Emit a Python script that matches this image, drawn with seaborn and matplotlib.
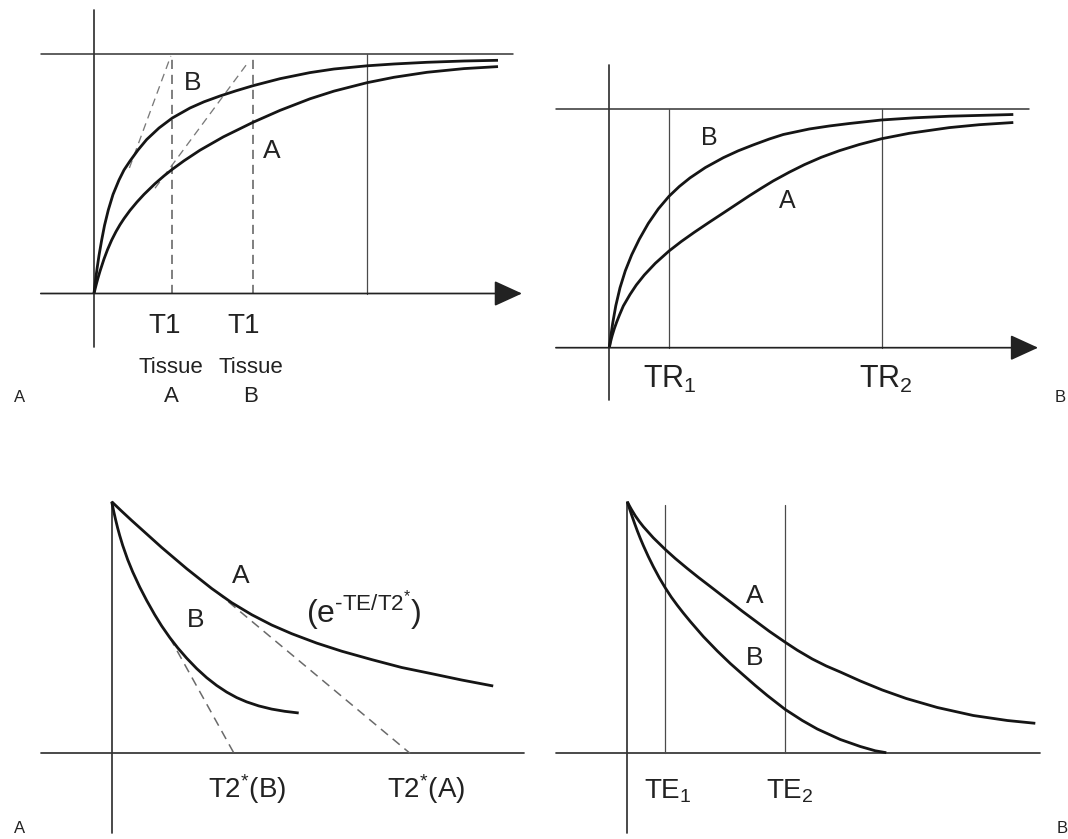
import matplotlib
matplotlib.use("Agg")
import matplotlib.pyplot as plt
import seaborn as sns

# ---------------- data ----------------
# Top left: T1 recovery of two tissues (time in ms, Mz as a fraction of M0)
t1_time_b = [0, 5, 10, 15, 25, 38.5, 52.5, 71.5, 95, 125, 150, 180, 220, 263.5, 325,
             391.5, 480, 550, 630, 710, 795, 930, 1080, 1200, 1365, 1500, 1665, 1850, 2020]
t1_mz_b = [0, 0.0376, 0.0711, 0.1024, 0.1589, 0.2237, 0.2843, 0.3491, 0.4139, 0.4745,
           0.5163, 0.5539, 0.5999, 0.6438, 0.6919, 0.7337, 0.7755, 0.8014, 0.8257, 0.8474,
           0.8687, 0.8980, 0.9235, 0.9385, 0.9519, 0.9595, 0.9666, 0.9720, 0.9749]
t1_time_a = [0, 5, 12.5, 20, 30, 50, 67.5, 88.5, 110, 130, 150, 180, 215, 250, 305, 350,
             391.5, 450, 530, 646.5, 795, 930, 1080, 1200, 1365, 1500, 1665, 1850, 2020]
t1_mz_a = [0, 0.0171, 0.0418, 0.0648, 0.0932, 0.1442, 0.1831, 0.2236, 0.2588, 0.2876,
           0.3131, 0.3474, 0.3825, 0.4143, 0.4590, 0.4917, 0.5192, 0.5548, 0.5991, 0.6547,
           0.7157, 0.7655, 0.8140, 0.8461, 0.8813, 0.9039, 0.9248, 0.9402, 0.9486]
t1_marks = [392, 795]          # T1 of tissue A, tissue B
t1_late = 1365                 # late sampling time
t1_tangents = [((177, 0.525), (384, 0.993)), ((305, 0.44), (765, 0.96))]

# Top right: same recovery sampled at two repetition times
tr_time_b = [0, 7.5, 17, 32.5, 53.5, 80, 112, 150, 195, 245, 298.5, 350, 403.5, 480, 570,
             645, 720, 800, 870, 1000, 1100, 1200, 1360, 1525, 1700, 2020]
tr_mz_b = [0, 0.0482, 0.1028, 0.1762, 0.2513, 0.3226, 0.3897, 0.4551, 0.5214, 0.5822,
           0.6351, 0.6762, 0.7123, 0.7555, 0.7970, 0.8260, 0.8507, 0.8754, 0.8943, 0.9174,
           0.9300, 0.9404, 0.9551, 0.9643, 0.9710, 0.9782]
tr_time_a = [0, 5, 10, 15, 25, 37, 50, 70, 103.5, 135, 175, 230, 298.5, 360, 425, 500, 570,
             635, 700, 760, 820, 900, 975, 1060, 1150, 1250, 1360, 1500, 1700, 1850, 2020]
tr_mz_a = [0, 0.0197, 0.0369, 0.0524, 0.0797, 0.1078, 0.1355, 0.1749, 0.2232, 0.2630,
           0.3050, 0.3540, 0.4056, 0.4455, 0.4841, 0.5264, 0.5650, 0.6011, 0.6372, 0.6690,
           0.6997, 0.7362, 0.7676, 0.7987, 0.8263, 0.8523, 0.8763, 0.8993, 0.9232, 0.9354,
           0.9446]
tr_marks = [300, 1362]
tr_labels = ["TR$_1$", "TR$_2$"]

# Bottom left: T2* decay (echo time in ms, signal as a fraction of the initial value)
t2s_te_a = [0, 5, 10, 17.5, 25, 37.5, 50, 60, 70, 80, 90, 102.5, 115, 130, 145, 160, 175,
            190.75]
t2s_sig_a = [1.0, 0.9622, 0.9253, 0.8717, 0.8180, 0.7337, 0.6550, 0.5986, 0.5509, 0.5099,
             0.4754, 0.4380, 0.4058, 0.3724, 0.3410, 0.3164, 0.2913, 0.2675]
t2s_te_b = [0, 1, 2, 3, 4, 5.5, 8, 10.5, 14, 17.5, 21.5, 25, 29, 33, 37.5, 42.5, 47.5, 52.5,
            57.5, 62.5, 67.5, 73.5, 80, 86.5, 93.5]
t2s_sig_b = [1.0, 0.9618, 0.9269, 0.8947, 0.8657, 0.8263, 0.7695, 0.7210, 0.6610, 0.6073,
             0.5509, 0.5060, 0.4603, 0.4193, 0.3780, 0.3367, 0.3005, 0.2695, 0.2432, 0.2214,
             0.2043, 0.1884, 0.1757, 0.1669, 0.1602]
t2s_values = [61.15, 149.15]    # T2*(B), T2*(A)
t2s_tangent_from = [(29, 0.4603), (52.5, 0.641)]
t2s_labels = ["T2$^{*}$(B)", "T2$^{*}$(A)"]

# Bottom right: decay sampled at two echo times
te_time_a = [0, 1, 2, 4, 6, 8, 13, 19, 24, 30, 35.5, 41.5, 47, 52.5, 57.5, 63, 71, 79, 85,
             92.5, 99.5, 106.5, 116.5, 127.5, 139.5, 155, 173, 190, 204]
te_sig_a = [1.0, 0.9845, 0.9701, 0.9438, 0.9211, 0.9008, 0.8562, 0.8096, 0.7737, 0.7339,
            0.6988, 0.6622, 0.6283, 0.5948, 0.5637, 0.5311, 0.4837, 0.4398, 0.4084, 0.3733,
            0.3454, 0.3215, 0.2857, 0.2498, 0.2159, 0.1801, 0.1482, 0.1283, 0.1171]
te_time_b = [0, 1.25, 2.5, 3.75, 5, 6.5, 8, 10.5, 13, 16, 19, 22, 25, 28, 31.5, 38, 45, 51.5,
             58, 64, 70, 79, 87.5, 95, 106.5, 116.5, 124, 129.5]
te_sig_b = [1.0, 0.9689, 0.9394, 0.9112, 0.8841, 0.8538, 0.8255, 0.7817, 0.7414, 0.6968,
            0.6566, 0.6199, 0.5873, 0.5566, 0.5227, 0.4629, 0.4052, 0.3554, 0.3096, 0.2677,
            0.2279, 0.1721, 0.1283, 0.0944, 0.0526, 0.0247, 0.0076, 0.0]
te_marks = [18.85, 78.85]
te_labels = ["TE$_1$", "TE$_2$"]

# ---------------- style ----------------
sns.set_theme(style="white")
plt.rcParams["font.family"] = ["Liberation Sans", "DejaVu Sans"]
plt.rcParams["mathtext.fontset"] = "custom"
plt.rcParams["mathtext.rm"] = "Liberation Sans"
plt.rcParams["mathtext.it"] = "Liberation Sans"
plt.rcParams["mathtext.sf"] = "Liberation Sans"

W, H = 1068, 839
fig = plt.figure(figsize=(W / 100, H / 100), dpi=100)
fig.patch.set_facecolor("white")

CURVE = "#151515"
AXIS = "#333333"
THIN = "#4a4a4a"
DASH = "#6a6a6a"
TXT = "#222222"
CURVE_LW = 2.0
AXIS_LW = 1.25


def panel(x0, y0, ms_per_px, height_px):
    """Full-figure transparent axes whose origin sits at pixel (x0, y0)."""
    ax = fig.add_axes([0, 0, 1, 1])
    ax.set_xlim((0 - x0) * ms_per_px, (W - x0) * ms_per_px)
    ax.set_ylim((y0 - H) / height_px, y0 / height_px)
    ax.set_axis_off()
    return ax


def curve(ax, x, y):
    sns.lineplot(x=x, y=y, ax=ax, color=CURVE, linewidth=CURVE_LW, legend=False,
                 solid_capstyle="butt", solid_joinstyle="round")


def arrow_axis(ax, x_start, x_tip):
    ax.annotate("", xy=(x_tip, 0), xytext=(x_start, 0),
                arrowprops=dict(arrowstyle="-|>,head_length=1.75,head_width=0.8",
                                mutation_scale=10, lw=AXIS_LW, color="#222222",
                                shrinkA=0, shrinkB=0))


def label(ax, x, y, s, size=19, ha="center"):
    ax.text(x, y, s, ha=ha, va="baseline", fontsize=size, color=TXT)


# ---- top left: T1 ----
ax1 = panel(94, 293.5, 5, 239.2)
ax1.plot([0, 0], [-0.224, 1.185], color=AXIS, lw=AXIS_LW)
arrow_axis(ax1, -266, 2140)
ax1.plot([-266, 2095], [1, 1], color=AXIS, lw=1.1)
for xm in t1_marks:
    ax1.plot([xm, xm], [0, 1], color=DASH, lw=1.2, ls=(0, (5.5, 3.5)))
ax1.plot([t1_late, t1_late], [0, 1], color=THIN, lw=0.9)
for (xa, ya), (xb, yb) in t1_tangents:
    ax1.plot([xa, xb], [ya, yb], color="#7a7a7a", lw=0.95, ls=(0, (6, 4)))
curve(ax1, t1_time_b, t1_mz_b)
curve(ax1, t1_time_a, t1_mz_a)
label(ax1, 495, 0.851, "B")
label(ax1, 890, 0.567, "A")
label(ax1, 355, -0.166, "T1", 20)
label(ax1, 750, -0.166, "T1", 20)
for xc, name in zip([385, 785], ["A", "B"]):
    label(ax1, xc, -0.334, "Tissue", 16)
    label(ax1, xc, -0.452, name, 16)

# ---- top right: TR ----
ax2 = panel(609.3, 347.7, 5, 238.4)
ax2.plot([0, 0], [-0.219, 1.186], color=AXIS, lw=AXIS_LW)
arrow_axis(ax2, -267, 2144)
ax2.plot([-267, 2099], [1, 1], color=AXIS, lw=1.1)
for xm in tr_marks:
    ax2.plot([xm, xm], [0, 1], color=THIN, lw=0.9)
curve(ax2, tr_time_b, tr_mz_b)
curve(ax2, tr_time_a, tr_mz_a)
label(ax2, 499, 0.850, "B", 18)
label(ax2, 889, 0.585, "A", 18)
for xm, s in zip([303, 1382], tr_labels):
    label(ax2, xm, -0.170, s, 22)

# ---- bottom left: T2* ----
ax3 = panel(111.7, 753.3, 0.5, 251.6)
ax3.plot([0, 0], [-0.318, 1.0], color=AXIS, lw=AXIS_LW)
ax3.plot([-35.4, 205.9], [0, 0], color=AXIS, lw=AXIS_LW)
for (xa, ya), xv in zip(t2s_tangent_from, t2s_values):
    ax3.plot([xa, xv], [ya, 0], color=DASH, lw=1.1, ls=(0, (6, 4)))
curve(ax3, t2s_te_a, t2s_sig_a)
curve(ax3, t2s_te_b, t2s_sig_b)
label(ax3, 64.65, 0.676, "A")
label(ax3, 41.9, 0.503, "B")
label(ax3, 97.3, 0.517, r"$\mathregular{(e^{\text{-}TE/T2^{*}})}$", 23, ha="left")
for xv, s in zip([67.6, 157.4], t2s_labels):
    label(ax3, xv, -0.179, s, 20)

# ---- bottom right: TE ----
ax4 = panel(627.3, 752.7, 0.5, 251)
ax4.plot([0, 0], [-0.321, 1.0], color=AXIS, lw=AXIS_LW)
ax4.plot([-35.65, 206.1], [0, 0], color=AXIS, lw=AXIS_LW)
for xm in te_marks:
    ax4.plot([xm, xm], [0, 0.987], color=THIN, lw=0.9)
curve(ax4, te_time_a, te_sig_a)
curve(ax4, te_time_b, te_sig_b)
label(ax4, 63.6, 0.595, "A")
label(ax4, 63.6, 0.349, "B")
for xm, s in zip([20.45, 81.1], te_labels):
    label(ax4, xm, -0.182, s, 20)

# ---- panel letters ----
for px, py, s in [(19.6, 401.5, "A"), (1060, 401.5, "B"), (19.6, 833, "A"), (1062, 833, "B")]:
    fig.text(px / W, 1 - py / H, s, ha="center", va="baseline", fontsize=12, color=TXT)

fig.savefig("out.png", dpi=100, facecolor="white")
